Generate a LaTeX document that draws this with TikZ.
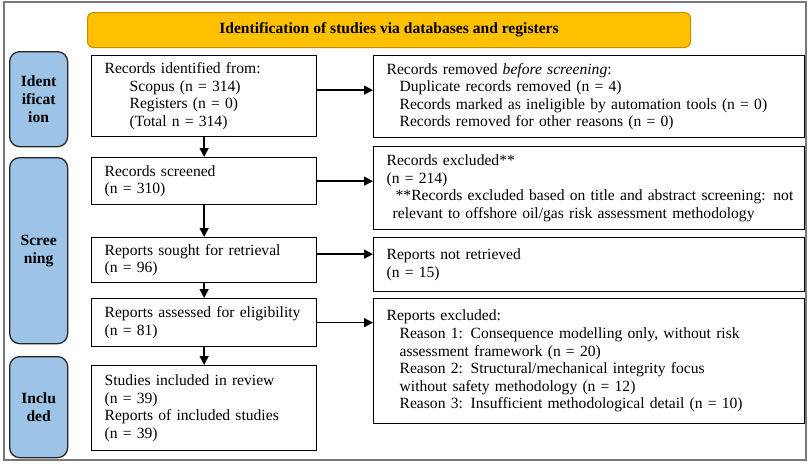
\documentclass[tikz,border=0pt]{standalone}
\usepackage{fontspec}
\setmainfont{Liberation Serif}
\usetikzlibrary{arrows.meta}
\definecolor{hdrfill}{RGB}{255,192,0}
\definecolor{hdrdraw}{RGB}{191,144,0}
\definecolor{sidefill}{RGB}{157,195,230}
\definecolor{framegray}{RGB}{120,120,120}
\tikzset{
  txt/.style={font=\fontsize{15.6}{17.6}\selectfont},
  box/.style={txt, draw=black, line width=1.3pt, fill=white, rectangle, anchor=north west,
    align=left, inner xsep=13pt, inner ysep=2pt},
  lbox/.style={box, minimum width=225pt, text width=199pt},
  rbox/.style={box, minimum width=431pt, text width=405pt},
  side/.style={draw=black!85, line width=1.3pt, fill=sidefill, rounded corners=10pt,
    anchor=north west, minimum width=58pt, inner sep=0pt, align=center,
    font=\fontsize{15.6}{18}\selectfont\bfseries},
  hdr/.style={draw=hdrdraw, line width=1pt, fill=hdrfill, rounded corners=6pt,
    anchor=north west, minimum width=603pt, minimum height=35pt, inner sep=0pt,
    font=\fontsize{15.6}{18}\selectfont\bfseries},
  arr/.style={line width=1.4pt, -{Triangle[length=9pt,width=9pt]}}
}
\begin{document}
\begin{tikzpicture}[x=1pt,y=-1pt]
\useasboundingbox (0,0) rectangle (811,466);
\draw[framegray, line width=1.5pt] (4,2) rectangle (806,460);

\node[hdr] (hdr) at (87,12) {Identification of studies via databases and registers};

\node[side, minimum height=95pt] (s1) at (9,51) {Ident\\ificat\\ion};
\node[side, minimum height=186pt] (s2) at (9,157) {Scree\\ning};
\node[side, minimum height=101pt] (s3) at (9,356) {Inclu\\ded};

\node[lbox, minimum height=81pt] (a1) at (91,55) {Records identified from:\\
\hspace*{25pt}Scopus (n = 314)\\
\hspace*{25pt}Registers (n = 0)\\
\hspace*{25pt}(Total n = 314)};
\node[lbox, minimum height=47pt] (a2) at (91,157) {Records screened\\(n = 310)};
\node[lbox, minimum height=45pt] (a3) at (91,237) {Reports sought for retrieval\\(n = 96)};
\node[lbox, minimum height=48pt] (a4) at (91,298) {Reports assessed for eligibility\\(n = 81)};
\node[lbox, minimum height=85pt] (a5) at (91,365) {Studies included in review\\(n = 39)\\Reports of included studies\\(n = 39)};

\node[rbox, minimum height=82pt] (r1) at (373,55) {Records removed \emph{before screening}:\\
\hspace*{13pt}Duplicate records removed (n = 4)\\
\hspace*{13pt}\mbox{Records marked as ineligible by automation tools (n = 0)}\\
\hspace*{13pt}Records removed for other reasons (n = 0)};
\node[rbox, minimum height=83pt] (r2) at (373,146) {Records excluded**\\(n = 214)\\
\hspace*{9pt}\mbox{**Records excluded based on title and abstract screening: not}\\
\hspace*{6pt}\mbox{relevant to offshore oil/gas risk assessment methodology}};
\node[rbox, minimum height=54pt] (r3) at (373,237) {Reports not retrieved\\(n = 15)};
\node[rbox, minimum height=125pt] (r4) at (373,298) {Reports excluded:\\
\hspace*{13pt}\mbox{Reason 1: Consequence modelling only, without risk}\\
\hspace*{13pt}assessment framework (n = 20)\\
\hspace*{13pt}\mbox{Reason 2: Structural/mechanical integrity focus}\\
\hspace*{13pt}without safety methodology (n = 12)\\
\hspace*{13pt}\mbox{Reason 3: Insufficient methodological detail (n = 10)}};

\draw[arr] (a1.south) -- (a2.north);
\draw[arr] (a2.south) -- (a3.north);
\draw[arr] (a3.south) -- (a4.north);
\draw[arr] (a4.south) -- (a5.north);

\draw[arr] ([yshift=6pt]a1.east) -- ([yshift=6pt]a1.east -| r1.west);
\draw[arr] (a2.east) -- (a2.east -| r2.west);
\draw[arr] ([yshift=6pt]a3.east) -- ([yshift=6pt]a3.east -| r3.west);
\draw[arr] (a4.east) -- (a4.east -| r4.west);
\end{tikzpicture}
\end{document}
